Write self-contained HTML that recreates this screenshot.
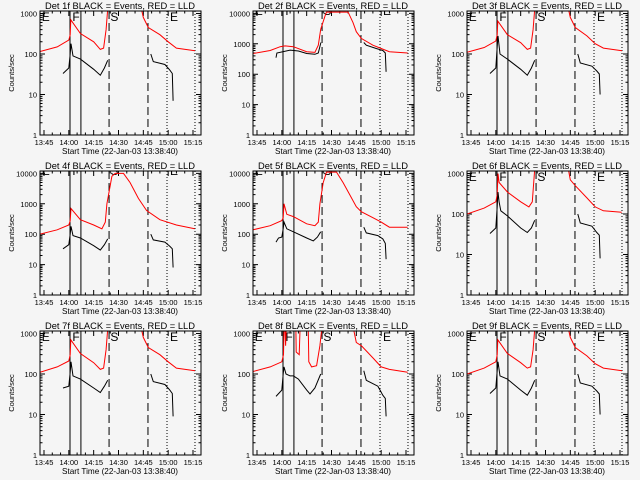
<!DOCTYPE html>
<html><head><meta charset="utf-8"><style>
html,body{margin:0;padding:0;background:#f5f5f5;}
svg{display:block;font-family:"Liberation Sans",sans-serif;}
</style></head><body>
<svg id="c" width="640" height="480" viewBox="0 0 640 480"></svg>
<script>
const panelTitles=["Det 1f BLACK = Events, RED = LLD","Det 2f BLACK = Events, RED = LLD","Det 3f BLACK = Events, RED = LLD","Det 4f BLACK = Events, RED = LLD","Det 5f BLACK = Events, RED = LLD","Det 6f BLACK = Events, RED = LLD","Det 7f BLACK = Events, RED = LLD","Det 8f BLACK = Events, RED = LLD","Det 9f BLACK = Events, RED = LLD"];
const panelMaxDecade=[3,4,3,4,4,3,3,3,3];
const xTickLabels=["13:45","14:00","14:15","14:30","14:45","15:00","15:15"];
const xTickMinutes=[0,15,30,45,60,75,90];
const solidLines=[15.7,22.3];
const dashedLines=[39.3,62.8];
const dottedLines=[74.3,91.2];
const markerLetters=["E","F","S","E"];
const markerMinutes=[-2,16.5,39.5,75.5];
// minutes after 13:45, counts/sec ; each series = list of segments
const red1=[[[-2.4,115],[8,150],[15,220],[15.8,300],[16.2,700],[22,320],[30,200],[34,130],[36,140],[37.5,400],[38.6,1500]],[[58.5,1500],[60,800],[63,450],[70,300],[75,200],[80,140],[91.2,120]]];
const blk1=[[[11.5,33],[15,45],[15.8,100],[16.3,180],[17.5,90],[22,75],[30,42],[34,30],[36.5,45],[38.5,70]],[[64.5,100],[66,65],[73,55],[76,40],[77.5,33],[78,7]]];
const red2=[[[-2.4,480],[8,600],[14,800],[17,850],[22,800],[30,550],[35,520],[37,900],[38.5,3000],[41,8000],[42,11000],[55,11000],[58,5000],[60,2500],[63,1500],[70,900],[75,700],[80,550],[91,500]]];
const blk2=[[[11.5,350],[12,500],[20,620],[25,580],[30,480],[35,450],[37,500],[38.6,1100]],[[64.5,1100],[66,900],[72,700],[76,600],[77.5,500],[78,120]]];
const red3=[[[-2.4,110],[8,145],[15,210],[15.8,300],[16.2,650],[22,300],[30,190],[34,130],[36,140],[37.5,400],[38.6,1500]],[[58.5,1500],[60,800],[63,450],[70,280],[75,180],[80,140],[91.2,120]]];
const blk3=[[[11.5,33],[15,45],[15.8,150],[16.3,280],[17.5,100],[22,75],[30,42],[34,30],[36.5,45],[38.5,70]],[[64.5,100],[66,60],[73,50],[76,38],[77.5,32],[78,10]]];
const red4=[[[-2.4,100],[8,140],[15,200],[15.8,280],[16.3,700],[22,300],[30,200],[35,150],[37,250],[38,1000],[41,8000],[43,10000],[48,10000],[52,5000],[57,1500],[62,600],[70,300],[80,200],[91,150]]];
const blk4=[[[11.5,33],[15,45],[15.8,100],[16.3,180],[17.5,90],[22,75],[30,42],[34,30],[36.5,45],[38.5,70]],[[64.5,100],[66,65],[73,55],[76,40],[77.5,33],[78,8]]];
const red5=[[[-2.4,140],[8,190],[15,280],[15.8,350],[16.3,1000],[18,450],[22,380],[30,220],[35,190],[37,250],[38,1000],[40,5000],[42,11000],[48,11000],[52,5000],[56,2000],[60,800],[63,550],[70,350],[75,250],[80,170],[91,170]]];
const blk5=[[[11.5,55],[13,75],[15,80],[15.8,150],[16.3,250],[18,150],[22,120],[30,75],[34,60],[36.5,80],[38.5,120]],[[64.5,170],[66,110],[73,90],[76,70],[77.5,50],[78,15]]];
const red6=[[[-2.4,100],[8,140],[15,200],[15.8,300],[16.3,1000],[17,600],[22,350],[30,200],[35,150],[37,200],[38.6,1500]],[[58.5,1500],[60,700],[63,500],[70,250],[75,150],[80,120],[91,110]]];
const blk6=[[[11.5,33],[15,45],[15.8,150],[16.3,350],[17,200],[18,120],[22,90],[30,45],[34,35],[36.5,45],[38.5,70]],[[64.5,100],[66,60],[73,50],[76,35],[77.5,30],[78,8]]];
const red7=[[[-2.4,110],[8,150],[15,210],[15.8,300],[16.2,700],[22,320],[30,190],[34,130],[36,140],[37.5,400],[38.6,1500]],[[58.5,1500],[60,800],[63,450],[70,300],[75,200],[80,140],[91.2,120]]];
const blk7=[[[11.5,45],[15,50],[15.8,110],[16.3,200],[17.5,90],[22,75],[30,45],[34,35],[36.5,50],[38.5,70]],[[64.5,100],[66,65],[73,55],[76,40],[77.5,33],[78,9]]];
const red8=[[[-2.4,115],[8,150],[15,200],[16,300],[16.3,1200]],[[17,1200],[17.3,500],[17.6,1200]],[[23.5,1200],[23.7,350],[25.5,300],[26,1200]],[[31,1200],[31.3,200],[33,150],[36,160],[38,500],[39,1200]],[[58.5,1200],[60,600],[63,500],[70,250],[75,150],[80,130],[91,110]]];
const blk8=[[[11.5,28],[15,40],[15.8,100],[16.3,150],[17.5,100],[20,90],[22,90],[25,75],[30,40],[32,32],[35,45],[38.5,100]],[[64.5,120],[66,70],[73,50],[76,30],[77.5,25],[78,9]]];
const red9=[[[-2.4,100],[8,140],[15,200],[15.8,300],[16.2,700],[22,320],[30,190],[34,140],[36,150],[37.5,400],[38.6,1500]],[[58.5,1500],[60,800],[63,450],[70,280],[75,180],[80,140],[91.2,120]]];
const blk9=[[[11.5,33],[15,45],[15.8,120],[16.3,200],[17.5,90],[22,75],[30,40],[34,30],[36.5,45],[38.5,70]],[[64.5,100],[66,60],[73,50],[76,38],[77.5,32],[78,10]]];
const redSeries=[red1,red2,red3,red4,red5,red6,red7,red8,red9];
const blackSeries=[blk1,blk2,blk3,blk4,blk5,blk6,blk7,blk8,blk9];

const NS="http://www.w3.org/2000/svg";
const svg=document.getElementById('c');
function mk(tag,attrs,parent){const e=document.createElementNS(NS,tag);for(const k in attrs)e.setAttribute(k,attrs[k]);(parent||svg).appendChild(e);return e;}
const L=40,R=201,T=11,B=135;
const xScale=m=>44+m*(149/90);
for(let p=0;p<9;p++){
  const ox=[0,213,427][p%3], oy=[0,160,320][Math.floor(p/3)];
  const dec=panelMaxDecade[p]===4?30.4:40.5;
  const yScale=v=>B-dec*Math.log10(v);
  const g=mk('g',{transform:`translate(${ox},${oy})`});
  
  
  const cp=mk('clipPath',{id:'cp'+p},g);mk('rect',{x:L,y:T,width:R-L,height:B-T},cp);
  const t=mk('text',{x:120,y:9,'text-anchor':'middle','font-size':'9','textLength':'150','lengthAdjust':'spacingAndGlyphs'},g);t.textContent=panelTitles[p];
  
  const yl=mk('text',{transform:'translate(14,73) rotate(-90)','text-anchor':'middle','font-size':'7.5'},g);yl.textContent='Counts/sec';
  
  const xl=mk('text',{x:120,y:154,'text-anchor':'middle','font-size':'8.5','textLength':'116','lengthAdjust':'spacingAndGlyphs'},g);xl.textContent='Start Time (22-Jan-03 13:38:40)';
  
  let d='';
  for(let m=-5;m<=95;m+=5){const x=xScale(m);if(x<L||x>R)continue;const len=(m%15===0)?5:2.5;d+=`M${x},${B}v${-len}M${x},${T}v${len}`;}
  for(let k=0;k<=panelMaxDecade[p];k++){for(let j=1;j<10;j++){const v=Math.pow(10,k)*j;const y=yScale(v);if(y<T)break;const len=j===1?5:2.5;d+=`M${L},${y}h${len}M${R},${y}h${-len}`;}}
  mk('path',{d:d,stroke:'#000','stroke-width':1,fill:'none'},g);
  xTickLabels.forEach((s,i)=>{const e=mk('text',{x:xScale(xTickMinutes[i]),y:145,'text-anchor':'middle','font-size':'7.5'},g);e.textContent=s;
    });
  for(let k=0;k<=panelMaxDecade[p];k++){const e=mk('text',{x:37,y:yScale(Math.pow(10,k))+3,'text-anchor':'end','font-size':'7.5'},g);e.textContent=String(Math.pow(10,k));
    }
  const pg=mk('g',{'clip-path':`url(#cp${p})`},g);
  solidLines.forEach(m=>{const e=mk('line',{x1:xScale(m),x2:xScale(m),y1:T,y2:B,stroke:'#000','stroke-width':1},pg);});
  dashedLines.forEach(m=>{const e=mk('line',{x1:xScale(m),x2:xScale(m),y1:T,y2:B,stroke:'#000','stroke-width':1,'stroke-dasharray':'8,4'},pg);});
  dottedLines.forEach(m=>{const e=mk('line',{x1:xScale(m),x2:xScale(m),y1:T,y2:B,stroke:'#000','stroke-width':1,'stroke-dasharray':'1,2'},pg);});
  const ly=panelMaxDecade[p]===4?15:21;
  markerLetters.forEach((s,i)=>{const e=mk('text',{x:xScale(markerMinutes[i])+1,y:ly,'font-size':'12'},pg);e.textContent=s;
    });
  const draw=(series,col,name)=>series.forEach(seg=>{const e=mk('polyline',{points:seg.map(q=>xScale(q[0]).toFixed(1)+','+yScale(q[1]).toFixed(1)).join(' '),fill:'none',stroke:col,'stroke-width':1},pg);
    });
  draw(redSeries[p],'#ff0000','red-lld-curve');
  draw(blackSeries[p],'#000','black-events-curve');
  mk('rect',{x:L,y:T,width:R-L,height:B-T,fill:'none',stroke:'#000','stroke-width':1},g);
}
</script>
</body></html>
